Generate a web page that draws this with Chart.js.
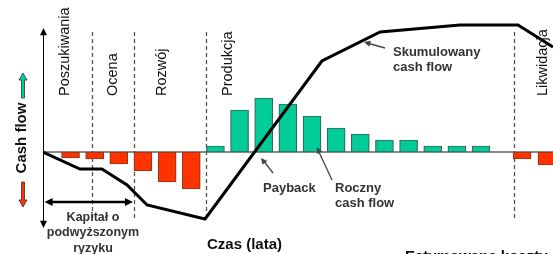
<!DOCTYPE html>
<html>
<head>
<meta charset="utf-8">
<script src="https://cdn.jsdelivr.net/npm/chart.js@4.4.1/dist/chart.umd.min.js"></script>
<style>
  html, body { margin: 0; padding: 0; background: #fff; }
  #wrap { width: 553px; height: 254px; position: relative; }
</style>
</head>
<body>
<div id="wrap"><canvas id="cf-chart"></canvas></div>
<script>
// Roczny cash flow (slupki) - pozycja w latach i wartosc
var years    = [1, 2, 3, 4, 5, 6, 7, 8, 9, 10, 11, 12, 13, 14, 15, 16, 17, 18, 19.7, 20.73];
var cashFlow = [-6, -7, -12, -19, -30, -37, 6, 42, 54, 48, 36, 24, 18, 12, 12, 6, 6, 6, -7, -13];

// Skumulowany cash flow (linia, schemat)
var cumYears = [-0.14, 1.39, 2.30, 3.34, 4.17, 6.57, 11.41, 13.82, 17.13, 19.53, 20.98];
var cumFlow  = [0, -17, -17, -33, -53, -67, 91, 120, 127, 127, 105];

// Fazy projektu
var phaseNames  = ['Poszukiwania', 'Ocena', 'Rozwój', 'Produkcja', 'Likwidacja'];
var phaseCenter = [0.77, 2.76, 4.79, 7.52, 20.56];
var phaseBounds = [1.87, 3.63, 6.61, 19.36];

var RED = '#FF3300', GREEN = '#00CC99';
var FONT = "'Liberation Sans', Arial, sans-serif";

function arrowHead(ctx, x1, y1, x2, y2, size) {
  var a = Math.atan2(y2 - y1, x2 - x1);
  ctx.beginPath();
  ctx.moveTo(x2, y2);
  ctx.lineTo(x2 - size * Math.cos(a - 0.45), y2 - size * Math.sin(a - 0.45));
  ctx.lineTo(x2 - size * Math.cos(a + 0.45), y2 - size * Math.sin(a + 0.45));
  ctx.closePath();
  ctx.fill();
}

function line(ctx, x1, y1, x2, y2) {
  ctx.beginPath();
  ctx.moveTo(x1, y1);
  ctx.lineTo(x2, y2);
  ctx.stroke();
}

// kolorowa strzalka obok "Cash flow"
function blockArrow(ctx, x, yTail, yTip, fill) {
  var dir = yTip < yTail ? -1 : 1;
  var headLen = 7;
  ctx.fillStyle = fill;
  ctx.strokeStyle = '#333';
  ctx.lineWidth = 0.8;
  ctx.beginPath();
  ctx.moveTo(x - 1.5, yTail);
  ctx.lineTo(x - 1.5, yTip - dir * headLen);
  ctx.lineTo(x - 4, yTip - dir * headLen);
  ctx.lineTo(x, yTip);
  ctx.lineTo(x + 4, yTip - dir * headLen);
  ctx.lineTo(x + 1.5, yTip - dir * headLen);
  ctx.lineTo(x + 1.5, yTail);
  ctx.closePath();
  ctx.fill();
  ctx.stroke();
}

var background = {
  id: 'background',
  beforeDatasetsDraw: function(chart) {
    var ctx = chart.ctx, xs = chart.scales.x, ys = chart.scales.y;
    ctx.save();
    // linia zera
    ctx.strokeStyle = '#8a8a8a';
    ctx.lineWidth = 2;
    line(ctx, xs.getPixelForValue(xs.min), ys.getPixelForValue(0), chart.width, ys.getPixelForValue(0));
    // granice faz
    ctx.strokeStyle = '#555';
    ctx.lineWidth = 1.3;
    ctx.setLineDash([4, 3]);
    phaseBounds.forEach(function(b) {
      var px = Math.round(xs.getPixelForValue(b)) + 0.5;
      line(ctx, px, ys.getPixelForValue(120), px, ys.getPixelForValue(-69));
    });
    ctx.setLineDash([]);
    ctx.restore();
  },
  afterDatasetsDraw: function(chart) {
    var ctx = chart.ctx, xs = chart.scales.x, ys = chart.scales.y;
    ctx.save();
    // os pionowa ze strzalkami
    var ax = Math.round(xs.getPixelForValue(xs.min)) + 0.5;
    ctx.strokeStyle = '#000';
    ctx.fillStyle = '#000';
    ctx.lineWidth = 1;
    line(ctx, ax, ys.getPixelForValue(121), ax, ys.getPixelForValue(-73));
    arrowHead(ctx, ax, 100, ax, ys.getPixelForValue(124), 8);
    arrowHead(ctx, ax, 180, ax, ys.getPixelForValue(-76), 8);

    // nazwy faz (pionowo)
    ctx.font = '14.5px ' + FONT;
    ctx.fillStyle = '#111';
    ctx.textAlign = 'left';
    ctx.textBaseline = 'middle';
    phaseNames.forEach(function(n, i) {
      ctx.save();
      ctx.translate(xs.getPixelForValue(phaseCenter[i]), ys.getPixelForValue(56));
      ctx.rotate(-Math.PI / 2);
      ctx.fillText(n, 0, 0);
      ctx.restore();
    });

    // "Cash flow"
    ctx.save();
    ctx.translate(22, 138);
    ctx.rotate(-Math.PI / 2);
    ctx.font = 'bold 15px ' + FONT;
    ctx.textAlign = 'center';
    ctx.fillStyle = '#111';
    ctx.fillText('Cash flow', 0, 0);
    ctx.restore();
    blockArrow(ctx, 23, 98, 73, GREEN);
    blockArrow(ctx, 23, 182, 207, RED);

    // Kapital o podwyzszonym ryzyku
    var kx2 = xs.getPixelForValue(phaseBounds[1]) - 1;
    var ky = 202;
    ctx.strokeStyle = '#000';
    ctx.fillStyle = '#000';
    ctx.lineWidth = 2.5;
    line(ctx, ax + 5, ky, kx2 - 5, ky);
    arrowHead(ctx, kx2, ky, ax + 1, ky, 9);
    arrowHead(ctx, ax, ky, kx2, ky, 9);
    ctx.font = 'bold 12.5px ' + FONT;
    ctx.fillStyle = '#333';
    ctx.textAlign = 'center';
    ctx.fillText('Kapitał o', 93, 218);
    ctx.fillText('podwyższonym', 93, 233);
    ctx.fillText('ryzyku', 93, 249);

    // opisy ze strzalkami
    ctx.strokeStyle = '#444';
    ctx.fillStyle = '#444';
    ctx.lineWidth = 1.3;
    line(ctx, 273, 173, 263, 160);
    arrowHead(ctx, 273, 173, 261, 158, 7);
    line(ctx, 332, 180, 318, 150);
    arrowHead(ctx, 332, 180, 317, 147, 7);
    line(ctx, 385, 48, 367, 43);
    arrowHead(ctx, 385, 48, 364, 42, 7);

    ctx.font = 'bold 13px ' + FONT;
    ctx.fillStyle = '#333';
    ctx.textAlign = 'left';
    ctx.fillText('Payback', 263, 188);
    ctx.fillText('Roczny', 335, 188);
    ctx.fillText('cash flow', 335, 203);
    ctx.fillText('Skumulowany', 393, 52);
    ctx.fillText('cash flow', 393, 67);

    // os czasu
    ctx.font = 'bold 15px ' + FONT;
    ctx.fillStyle = '#111';
    ctx.fillText('Czas (lata)', 207, 245);
    ctx.textBaseline = 'alphabetic';
    ctx.fillText('Estymowane koszty', 405, 261);
    ctx.restore();
  }
};

var ctx = document.getElementById('cf-chart').getContext('2d');
var chart = new Chart(ctx, {
  type: 'bar',
  data: {
    datasets: [{
      type: 'line',
      label: 'Skumulowany cash flow',
      data: cumYears.map(function(x, i) { return { x: x, y: cumFlow[i] }; }),
      borderColor: '#000',
      borderWidth: 3,
      pointRadius: 0,
      tension: 0,
      fill: false,
      order: 0
    }, {
      label: 'Roczny cash flow',
      data: years.map(function(x, i) { return { x: x, y: cashFlow[i] }; }),
      backgroundColor: cashFlow.map(function(v) { return v < 0 ? RED : GREEN; }),
      borderColor: cashFlow.map(function(v) { return v < 0 ? '#8a3a20' : '#3d6358'; }),
      borderWidth: 1.2,
      borderSkipped: false,
      barThickness: 18,
      order: 1
    }]
  },
  options: {
    responsive: true,
    maintainAspectRatio: false,
    animation: false,
    layout: { padding: { left: 43, right: 0, top: 20, bottom: 24 } },
    plugins: { legend: { display: false }, tooltip: { enabled: false } },
    scales: {
      x: { type: 'linear', min: -0.14, max: 20.98, display: false, offset: false },
      y: { min: -78, max: 132, display: false }
    }
  },
  plugins: [background]
});
</script>
</body>
</html>
